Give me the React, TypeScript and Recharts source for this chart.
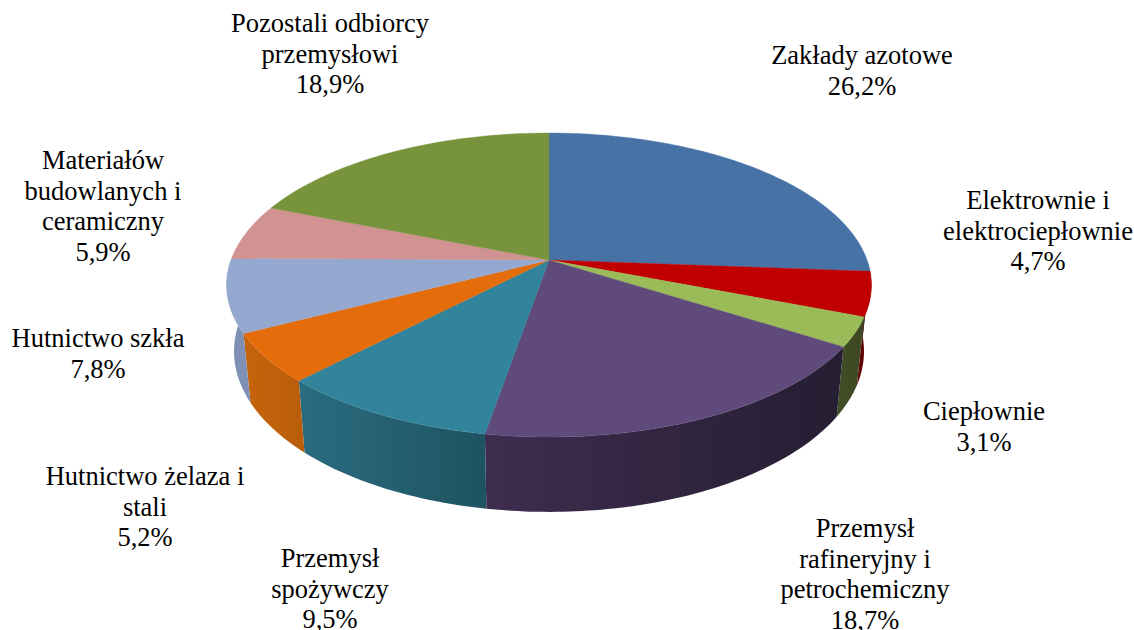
import { PieChart, Pie } from 'recharts'

const CATEGORIES = [
  'Zakłady azotowe',
  'Elektrownie i elektrociepłownie',
  'Ciepłownie',
  'Przemysł rafineryjny i petrochemiczny',
  'Przemysł spożywczy',
  'Hutnictwo żelaza i stali',
  'Hutnictwo szkła',
  'Materiałów budowlanych i ceramiczny',
  'Pozostali odbiorcy przemysłowi',
]
const SHARES = [26.2, 4.7, 3.1, 18.7, 9.5, 5.2, 7.8, 5.9, 18.9]

// how each category name breaks over lines in the label
const LABEL_LINES = [
  ['Zakłady azotowe'],
  ['Elektrownie i', 'elektrociepłownie'],
  ['Ciepłownie'],
  ['Przemysł', 'rafineryjny i', 'petrochemiczny'],
  ['Przemysł', 'spożywczy'],
  ['Hutnictwo żelaza i', 'stali'],
  ['Hutnictwo szkła'],
  ['Materiałów', 'budowlanych i', 'ceramiczny'],
  ['Pozostali odbiorcy', 'przemysłowi'],
]

const TOP_COLORS = ['#4672A6', '#C00000', '#9BBB59', '#604A7B', '#31849B', '#E46C0A', '#95A8D0', '#D09392', '#77933C']
const WALL_LIGHT = ['#2F4C70', '#640000', '#414D25', '#3F2D4F', '#2A6C80', '#C6640C', '#7E90B4', '#8A6362', '#4F6228']
const WALL_DARK = ['#2A4465', '#580000', '#3D4822', '#251E32', '#1E5361', '#B95D0B', '#7E90B4', '#7D5958', '#465722']

// label block centre x and first baseline
const LABEL_POS = [
  [862, 64],
  [1038, 209],
  [984, 420],
  [865, 537],
  [330, 567],
  [145, 485],
  [98, 347],
  [103, 169],
  [330, 32],
]

const FONT = '"Liberation Serif", "Times New Roman", serif'
const FONT_SIZE = 26.5
const LINE_HEIGHT = 30.7

const PERSPECTIVE = 0.1645 // near side of the disc is drawn larger
const SQUASH = 0.465
const BASE_SCALE = 0.977
const DEPTH = 65
const DEPTH_GROW = 0.056

const pieData = CATEGORIES.map((name, i) => ({
  name,
  value: SHARES[i],
  idx: i,
}))

type SectorProps = {
  cx: number
  cy: number
  outerRadius: number
  startAngle: number
  endAngle: number
  idx: number
}

// point on the tilted disc for a pie angle (degrees, recharts convention)
function project(p: SectorProps, deg: number, r = 1) {
  const a = (deg * Math.PI) / 180
  const ux = Math.cos(a) * r
  const uy = -Math.sin(a) * r
  const w = 1 - PERSPECTIVE * uy
  return {
    x: p.cx + (p.outerRadius * ux) / w,
    y: p.cy + (p.outerRadius * SQUASH * uy) / w,
    uy,
  }
}

function sweep(from: number, to: number) {
  const n = Math.max(2, Math.ceil(Math.abs(to - from)))
  return Array.from({ length: n + 1 }, (_, i) => from + ((to - from) * i) / n)
}

function TopFace(props: any) {
  const p = props as SectorProps
  const rim = sweep(p.startAngle, p.endAngle).map((d) => project(p, d))
  const d = `M${p.cx},${p.cy} ` + rim.map((q) => `L${q.x},${q.y}`).join(' ') + ' Z'
  return <path d={d} fill={TOP_COLORS[p.idx]} stroke={TOP_COLORS[p.idx]} strokeWidth={0.4} />
}

function SideWall(props: any) {
  const p = props as SectorProps
  // only the part of the rim facing the viewer
  const angles = sweep(p.startAngle, p.endAngle).filter((d) => project(p, d).uy >= 0)
  if (angles.length < 2) return null
  const top = angles.map((d) => project(p, d))
  const bottom = top.map((q) => ({
    x: p.cx + (q.x - p.cx) * BASE_SCALE,
    y: q.y + DEPTH + DEPTH_GROW * (q.y - p.cy),
  }))
  const d =
    top.map((q, i) => `${i ? 'L' : 'M'}${q.x},${q.y}`).join(' ') +
    ' ' +
    bottom.reverse().map((q) => `L${q.x},${q.y}`).join(' ') +
    ' Z'
  const gid = `wall-${p.idx}`
  return (
    <g>
      <defs>
        <linearGradient id={gid} x1="0" y1="0" x2="1" y2="0">
          <stop offset="0%" stopColor={WALL_LIGHT[p.idx]} />
          <stop offset="100%" stopColor={WALL_DARK[p.idx]} />
        </linearGradient>
      </defs>
      <path d={d} fill={`url(#${gid})`} />
    </g>
  )
}

function renderLabel(props: any) {
  const i = props.idx as number
  const [x, y] = LABEL_POS[i]
  const lines = [...LABEL_LINES[i], `${SHARES[i].toFixed(1).replace('.', ',')}%`]
  return (
    <text
      key={i}
      x={x}
      y={y}
      textAnchor="middle"
      fontFamily={FONT}
      fontSize={FONT_SIZE}
      fill="#000000"
    >
      {lines.map((line, j) => (
        <tspan key={j} x={x} y={y + j * LINE_HEIGHT}>
          {line}
        </tspan>
      ))}
    </text>
  )
}

export default function App() {
  const pieProps = {
    data: pieData,
    dataKey: 'value',
    nameKey: 'name',
    cx: 549,
    cy: 260,
    outerRadius: 318,
    startAngle: 90,
    endAngle: -270,
    isAnimationActive: false,
    stroke: 'none',
  }
  return (
    <div style={{ position: 'absolute', left: 0, top: 0, width: 1134, height: 630, background: '#fff' }}>
      <PieChart width={1134} height={630} margin={{ top: 0, right: 0, bottom: 0, left: 0 }}>
        <Pie {...pieProps} shape={SideWall} />
        <Pie {...pieProps} shape={TopFace} label={renderLabel} labelLine={false} />
      </PieChart>
    </div>
  )
}
